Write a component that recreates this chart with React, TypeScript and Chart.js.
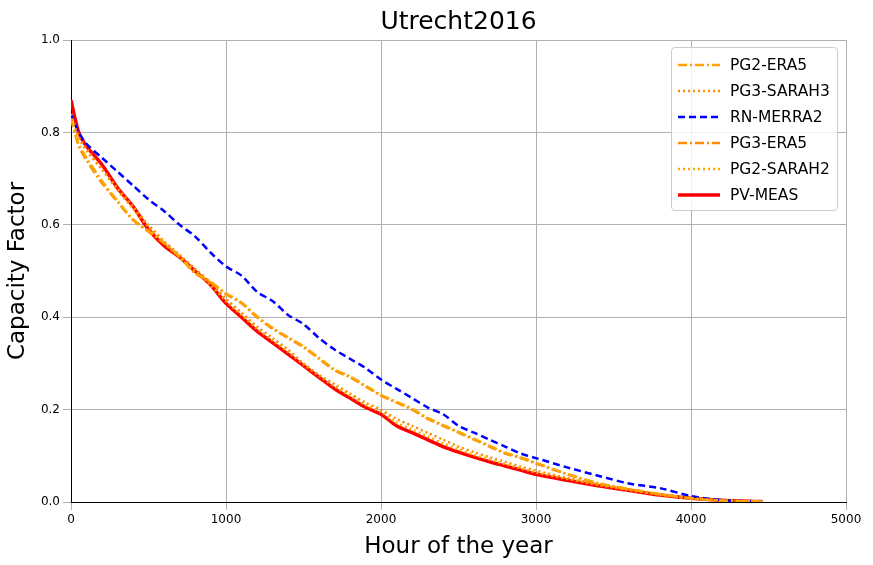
import { useRef, useEffect } from 'react';
import Chart from 'chart.js/auto';

const hours = [0, 50, 100, 200, 300, 400, 500, 600, 700, 800, 900, 1000, 1100, 1200, 1300, 1400, 1500, 1600, 1700, 1800, 1900, 2000, 2100, 2200, 2300, 2400, 2500, 2600, 2700, 2800, 2900, 3000, 3200, 3400, 3600, 3800, 4000, 4200, 4460];

const pvMeas = [0.87, 0.80, 0.77, 0.73, 0.68, 0.64, 0.59, 0.555, 0.53, 0.50, 0.47, 0.43, 0.40, 0.37, 0.345, 0.32, 0.295, 0.27, 0.245, 0.225, 0.205, 0.19, 0.165, 0.15, 0.135, 0.12, 0.108, 0.097, 0.087, 0.078, 0.069, 0.06, 0.047, 0.035, 0.025, 0.015, 0.008, 0.004, 0.001];
const rnMerra2 = [0.84, 0.80, 0.775, 0.745, 0.715, 0.685, 0.655, 0.63, 0.60, 0.575, 0.54, 0.51, 0.49, 0.455, 0.435, 0.405, 0.385, 0.355, 0.33, 0.31, 0.29, 0.265, 0.245, 0.225, 0.205, 0.19, 0.165, 0.15, 0.135, 0.12, 0.105, 0.095, 0.075, 0.057, 0.04, 0.03, 0.013, 0.004, 0.001];
const pg3Era5 = [0.83, 0.77, 0.74, 0.69, 0.65, 0.61, 0.585, 0.56, 0.53, 0.495, 0.475, 0.45, 0.43, 0.40, 0.375, 0.355, 0.335, 0.31, 0.285, 0.27, 0.25, 0.23, 0.215, 0.20, 0.18, 0.165, 0.15, 0.135, 0.12, 0.105, 0.095, 0.083, 0.06, 0.04, 0.028, 0.017, 0.008, 0.003, 0.001];
const pg2Era5 = [0.83, 0.775, 0.745, 0.695, 0.652, 0.612, 0.587, 0.562, 0.532, 0.497, 0.477, 0.452, 0.432, 0.402, 0.377, 0.357, 0.337, 0.312, 0.287, 0.272, 0.252, 0.232, 0.217, 0.202, 0.182, 0.167, 0.152, 0.137, 0.122, 0.107, 0.097, 0.085, 0.061, 0.041, 0.028, 0.017, 0.008, 0.003, 0.001];
const pg3Sarah3 = [0.84, 0.79, 0.765, 0.72, 0.68, 0.64, 0.60, 0.565, 0.535, 0.505, 0.475, 0.44, 0.41, 0.38, 0.355, 0.33, 0.30, 0.275, 0.255, 0.235, 0.215, 0.20, 0.18, 0.165, 0.15, 0.135, 0.12, 0.108, 0.097, 0.087, 0.077, 0.068, 0.052, 0.038, 0.027, 0.016, 0.008, 0.004, 0.001];
const pg2Sarah2 = [0.84, 0.79, 0.76, 0.72, 0.675, 0.635, 0.595, 0.56, 0.53, 0.50, 0.47, 0.435, 0.405, 0.375, 0.35, 0.325, 0.298, 0.273, 0.25, 0.23, 0.21, 0.195, 0.172, 0.157, 0.142, 0.127, 0.114, 0.102, 0.092, 0.082, 0.073, 0.064, 0.05, 0.037, 0.026, 0.016, 0.008, 0.004, 0.001];

const series = [
  { label: 'PG2-ERA5', data: pg2Era5, color: '#ffa500', dash: [9, 3, 2, 3], width: 2.5 },
  { label: 'PG3-SARAH3', data: pg3Sarah3, color: '#ff8c00', dash: [2, 3], width: 2.5 },
  { label: 'RN-MERRA2', data: rnMerra2, color: '#0000ff', dash: [7, 4], width: 2.5 },
  { label: 'PG3-ERA5', data: pg3Era5, color: '#ff8c00', dash: [9, 3, 2, 3], width: 2.5 },
  { label: 'PG2-SARAH2', data: pg2Sarah2, color: '#ffa500', dash: [2, 3], width: 2.5 },
  { label: 'PV-MEAS', data: pvMeas, color: '#ff0000', dash: [] as number[], width: 3.5 },
];

export default function App() {
  const chartRef = useRef<HTMLCanvasElement>(null);

  useEffect(() => {
    if (!chartRef.current) return;
    const chart = new Chart(chartRef.current, {
      type: 'line',
      data: {
        datasets: series.map(s => ({
          label: s.label,
          data: hours.map((h, i) => ({ x: h, y: s.data[i] })),
          borderColor: s.color,
          borderDash: s.dash,
          borderWidth: s.width,
          pointRadius: 0,
          fill: false,
          tension: 0.3,
        })),
      },
      options: {
        responsive: false,
        animation: false,
        layout: { padding: { top: 40, right: 27, left: 0, bottom: 0 } },
        plugins: { legend: { display: false }, tooltip: { enabled: false } },
        font: { family: 'DejaVu Sans' },
        scales: {
          x: {
            type: 'linear', min: 0, max: 5000,
            ticks: { stepSize: 1000, color: '#000', font: { size: 12, family: 'DejaVu Sans' }, callback: (v: any) => String(v) },
            grid: { color: '#b0b0b0' },
            border: { color: '#000' },
            title: { display: true, text: 'Hour of the year', color: '#000', font: { size: 23, family: 'DejaVu Sans' } },
            afterFit: (a: any) => { a.height = 63; },
          },
          y: {
            min: 0, max: 1,
            ticks: { stepSize: 0.2, color: '#000', font: { size: 12, family: 'DejaVu Sans' }, callback: (v: any) => Number(v).toFixed(1) },
            grid: { color: '#b0b0b0' },
            border: { color: '#000' },
            title: { display: true, text: 'Capacity Factor', color: '#000', font: { size: 23, family: 'DejaVu Sans' } },
            afterFit: (a: any) => { a.width = 71; },
          },
        },
      },
    });
    return () => chart.destroy();
  }, []);

  return (
    <div style={{ position: 'fixed', left: 0, top: 0, width: 873, height: 565, background: '#fff', fontFamily: 'DejaVu Sans, sans-serif' }}>
      <canvas ref={chartRef} width={873} height={565} />
      <div style={{ position: 'absolute', left: 71, width: 775, top: 6, textAlign: 'center', fontSize: 25 }}>Utrecht2016</div>
      <div style={{ position: 'absolute', left: 671, top: 47, width: 167, height: 164, border: '1px solid #ccc', borderRadius: 4, background: 'rgba(255,255,255,0.8)', padding: '4px 0 0 6px', boxSizing: 'border-box' }}>
        {series.map(s => (
          <div key={s.label} style={{ display: 'flex', alignItems: 'center', height: 26, fontSize: 15.5 }}>
            <svg width={42} height={10} style={{ marginRight: 10 }}>
              <line x1={0} y1={5} x2={42} y2={5} stroke={s.color} strokeWidth={s.width} strokeDasharray={s.dash.length ? s.dash.join(' ') : undefined} />
            </svg>
            {s.label}
          </div>
        ))}
      </div>
    </div>
  );
}
